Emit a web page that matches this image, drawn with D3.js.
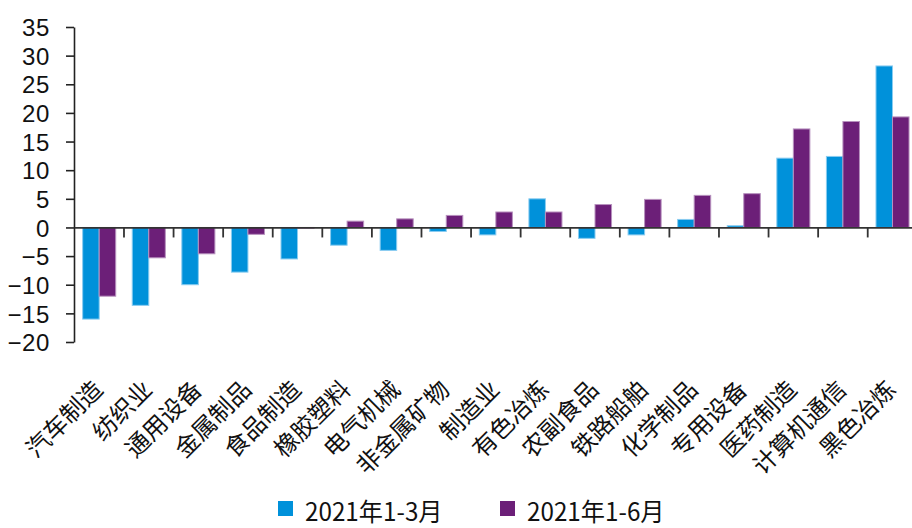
<!DOCTYPE html>
<html><head><meta charset="utf-8">
<script src="https://cdn.jsdelivr.net/npm/d3@7"></script>
<style>
body{margin:0;background:#fff;}
svg{display:block;}
</style></head>
<body><svg id="c" width="912" height="528"></svg>
<script>
const categories = ["汽车制造","纺织业","通用设备","金属制品","食品制造","橡胶塑料","电气机械","非金属矿物","制造业","有色冶炼","农副食品","铁路船舶","化学制品","专用设备","医药制造","计算机通信","黑色冶炼"];
const seriesNames = ["2021年1-3月","2021年1-6月"];
const q1Values = [-16.0,-13.6,-10.0,-7.8,-5.5,-3.1,-4.0,-0.7,-1.3,5.0,-1.9,-1.3,1.4,0.3,12.1,12.4,28.2];
const h1Values = [-12.0,-5.3,-4.6,-1.2,-0.15,1.1,1.5,2.1,2.7,2.7,4.0,4.9,5.6,5.9,17.2,18.5,19.3];
const yTicks = [-20,-15,-10,-5,0,5,10,15,20,25,30,35];

const fills = ["#0091DA","#6C1F78"];
const strokes = ["#8ACCF0","#B791BE"];

const svg = d3.select("#c");
const x = d3.scaleBand().domain(categories).range([74.4, 917.3]).paddingInner(0).paddingOuter(0);
const xs = d3.scaleBand().domain(seriesNames).range([0, x.bandwidth()]).paddingInner(0).paddingOuter(0.5);
const y = d3.scaleLinear().domain([-20, 35]).range([342, 27]);

const data = categories.map((c,i)=>({c, v:[q1Values[i], h1Values[i]]}));

// bars
const g = svg.append("g");
g.selectAll("g.grp").data(data).join("g").attr("class","grp")
 .attr("transform", d=>`translate(${x(d.c)},0)`)
 .selectAll("rect").data(d=>d.v.map((v,k)=>({v,k})))
 .join("rect")
 .attr("x", d=>xs(seriesNames[d.k]))
 .attr("width", xs.bandwidth())
 .attr("y", d=>y(Math.max(0,d.v)))
 .attr("height", d=>Math.abs(y(d.v)-y(0)))
 .attr("fill", d=>fills[d.k])
 .attr("stroke", d=>strokes[d.k])
 .attr("stroke-width", 1);

// y axis
const yAxis = svg.append("g").attr("transform","translate(74,0)")
 .call(d3.axisLeft(y).tickValues(yTicks).tickSize(8).tickSizeOuter(0).tickPadding(16).tickFormat(d3.format("d")));
yAxis.select(".domain").attr("stroke","#222").attr("stroke-width",1.6);
yAxis.selectAll(".tick line").attr("stroke","#222").attr("stroke-width",1.6);
yAxis.selectAll(".tick text").attr("font-family","'Liberation Sans', Arial, sans-serif").attr("font-size",24).attr("fill","#111").attr("dy","0.36em").attr("letter-spacing","0.6px");

// x axis at zero
const xAxis = svg.append("g").attr("transform",`translate(0,${y(0)})`)
 .call(d3.axisBottom(x).tickSize(0).tickFormat(""));
xAxis.select(".domain").attr("stroke","#333").attr("stroke-width",1.8);
// ticks at band boundaries
xAxis.selectAll("line.bt").data(categories.slice(1)).join("line").attr("class","bt")
 .attr("x1", d=>x(d)).attr("x2", d=>x(d)).attr("y1",0).attr("y2",10)
 .attr("stroke","#333").attr("stroke-width",1.8);

// category labels
svg.append("g").selectAll("text").data(categories).join("text")
 .attr("transform", d=>`translate(${x(d)+x.bandwidth()/2+5},391) rotate(-45)`)
 .attr("text-anchor","end")
 .attr("font-family","'Noto Sans CJK SC', sans-serif")
 .attr("font-size",24)
 .attr("fill","#111")
 .text(d=>d);

// legend
const lx = [278, 500];
const leg = svg.append("g").selectAll("g").data(seriesNames).join("g")
 .attr("transform",(d,i)=>`translate(${lx[i]},0)`);
leg.append("rect").attr("x",0).attr("y",501).attr("width",15).attr("height",15).attr("fill",(d,i)=>fills[i]);
leg.append("text").attr("transform","translate(27,521) scale(0.97,1)")
 .attr("font-family","'Noto Sans CJK SC', sans-serif").attr("font-size",25).attr("fill","#111")
 .text(d=>d);
</script></body></html>
